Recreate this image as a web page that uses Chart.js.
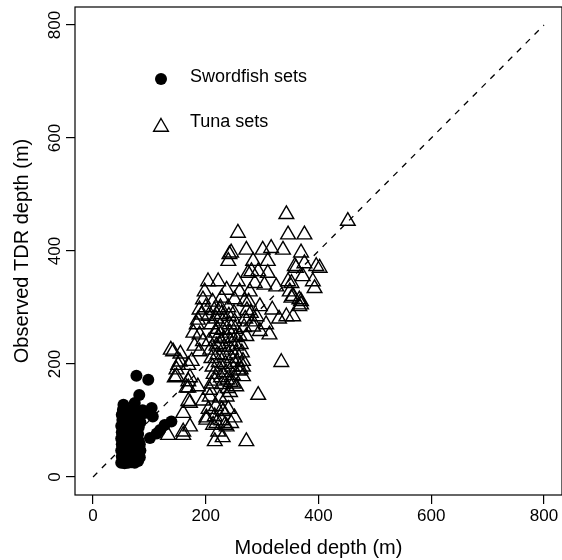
<!DOCTYPE html>
<html>
<head>
<meta charset="utf-8">
<script src="https://cdn.jsdelivr.net/npm/chart.js@4.4.1/dist/chart.umd.min.js"></script>
<style>
    body { margin: 0; background: #fff; }
    canvas { display: block; }
</style>
</head>
<body>
<canvas id="depthChart" width="562" height="560"></canvas>
<script>
// values: [modeled depth, observed TDR depth] in metres
const swordfishSets = [
    [77, 179], [98, 172], [82, 145], [54, 128], [74, 131], [104, 122], [106, 107], [139, 98],
    [127, 92], [119, 83], [113, 77], [101, 69], [92, 113], [88, 118],
    [50, 25], [51, 36], [50, 47], [51, 58], [50, 68], [51, 79], [50, 90], [52, 101], [51, 110],
    [53, 30], [54, 42], [53, 53], [54, 63], [53, 75], [54, 86], [53, 97], [54, 108], [53, 119],
    [56, 24], [57, 34], [56, 45], [57, 57], [56, 69], [57, 81], [56, 92], [57, 104], [56, 116],
    [59, 27], [60, 39], [59, 51], [60, 63], [59, 74], [60, 86], [59, 97],
    [62, 25], [63, 36], [62, 48], [63, 59], [62, 71], [63, 83], [62, 94],
    [65, 30], [66, 42], [65, 54], [66, 66], [65, 78], [66, 89], [65, 100],
    [68, 26], [69, 38], [68, 50], [69, 61], [68, 73], [69, 85], [68, 97], [69, 108],
    [71, 28], [72, 40], [71, 52], [72, 64], [71, 76], [72, 88], [71, 99], [72, 111], [71, 120],
    [74, 25], [75, 36], [74, 48], [75, 60], [74, 72], [75, 84], [74, 95], [75, 107], [74, 118],
    [77, 30], [78, 42], [77, 54], [78, 66], [77, 78], [78, 90], [77, 102], [78, 113],
    [80, 28], [81, 40], [80, 52], [81, 64], [80, 76], [81, 88], [80, 100],
    [83, 35], [84, 47], [83, 58], [84, 97], [83, 108]
];

const tunaSets = [
    // upper spread
    [343, 465], [452, 453], [257, 432], [346, 429], [375, 429],
    [272, 402], [301, 402], [316, 405], [337, 402], [369, 397], [242, 394], [245, 397],
    [240, 382], [284, 382], [310, 382], [375, 378], [360, 370], [396, 373], [402, 370], [358, 373],
    [281, 364], [293, 364], [310, 361], [275, 361], [372, 355],
    [390, 346], [204, 346], [222, 346], [257, 346], [287, 343], [304, 340], [325, 337], [346, 346],
    [352, 343], [393, 334], [198, 328], [237, 331], [260, 328], [278, 328], [349, 328],
    [195, 314], [228, 317], [251, 314], [269, 311], [352, 317], [369, 311], [366, 302], [296, 302],
    [355, 320], [366, 314], [369, 305], [189, 296], [225, 296], [343, 284], [355, 284], [290, 284],
    [307, 270], [284, 266], [186, 278], [296, 258], [272, 249], [313, 252], [318, 296], [330, 280],
    // left side
    [192, 287], [184, 270], [189, 252], [142, 222], [154, 204], [189, 222], [148, 190], [145, 176],
    [169, 169], [169, 158], [186, 160], [151, 198], [169, 198], [148, 178], [172, 176], [166, 158],
    [169, 134], [160, 113], [160, 80], [133, 74], [172, 131], [172, 89], [160, 74], [138, 225],
    [155, 218], [175, 205], [180, 232], [195, 240], [178, 255],
    // lower part
    [334, 203], [266, 178], [254, 160], [207, 154], [207, 142], [225, 140], [237, 142], [293, 145],
    [201, 105], [231, 116], [251, 105], [213, 92], [237, 89], [216, 63], [272, 63],
    [228, 119], [216, 107], [201, 101], [219, 95], [234, 92], [218, 125], [228, 100], [240, 120],
    [245, 95], [205, 120], [222, 80], [230, 70], [195, 135], [210, 165], [243, 150],
    // dense core
    [200, 300], [205, 285], [210, 270], [212, 310], [215, 295], [218, 280], [220, 262], [222, 248],
    [224, 235], [226, 300], [228, 288], [230, 275], [231, 260], [232, 245], [233, 230], [234, 215],
    [235, 200], [236, 185], [238, 172], [240, 300], [241, 285], [242, 270], [243, 255], [244, 240],
    [245, 225], [246, 210], [247, 195], [248, 180], [250, 290], [251, 275], [252, 262], [253, 247],
    [254, 232], [255, 218], [256, 203], [258, 188], [206, 240], [208, 225], [210, 210], [212, 195],
    [214, 182], [216, 170], [218, 255], [219, 232], [221, 217], [223, 203], [225, 190], [227, 176],
    [229, 164], [239, 157], [244, 168], [249, 165], [260, 250], [262, 235], [264, 220], [266, 205],
    [268, 265], [270, 280], [273, 295], [276, 310], [280, 290], [283, 275], [262, 190], [266, 195]
];

const oneToOne = [[0, 0], [800, 800]];
const xTicks = [0, 200, 400, 600, 800];
const yTicks = [0, 200, 400, 600, 800];
const legendLabels = ['Swordfish sets', 'Tuna sets'];

const FONT = "'Liberation Sans', Arial, Helvetica, sans-serif";

document.addEventListener('DOMContentLoaded', function () {
    const ctx = document.getElementById('depthChart').getContext('2d');
    const toPoints = arr => arr.map(p => ({ x: p[0], y: p[1] }));

    // keep the scales from asking for extra room for their end labels
    const noOverflow = s => {
        s.paddingLeft = 0;
        s.paddingRight = 0;
        s.paddingTop = 0;
        s.paddingBottom = 0;
    };

    // box around the plot region, rotated y tick labels and the legend, R style
    const framePlugin = {
        id: 'frame',
        afterDraw(chart) {
            const c = chart.ctx;
            const area = chart.chartArea;
            const yScale = chart.scales.y;
            c.save();
            c.strokeStyle = '#000';
            c.lineWidth = 1.2;
            c.strokeRect(area.left, area.top, area.right - area.left, area.bottom - area.top);

            c.fillStyle = '#000';
            c.font = '17px ' + FONT;
            c.textAlign = 'center';
            c.textBaseline = 'middle';
            yTicks.forEach(v => {
                c.save();
                c.translate(55, yScale.getPixelForValue(v));
                c.rotate(-Math.PI / 2);
                c.fillText(String(v), 0, 0);
                c.restore();
            });

            // legend
            c.beginPath();
            c.arc(161, 79, 6, 0, Math.PI * 2);
            c.fill();
            const r = 8.5;
            c.beginPath();
            c.moveTo(161, 127 - r);
            c.lineTo(161 + r * Math.sin(2 * Math.PI / 3), 127 + r / 2);
            c.lineTo(161 - r * Math.sin(2 * Math.PI / 3), 127 + r / 2);
            c.closePath();
            c.lineWidth = 1.4;
            c.stroke();
            c.font = '18px ' + FONT;
            c.textAlign = 'left';
            c.fillText(legendLabels[0], 190, 77);
            c.fillText(legendLabels[1], 190, 122);
            c.restore();
        }
    };

    new Chart(ctx, {
        type: 'scatter',
        data: {
            datasets: [
                {
                    label: 'Observed = modeled',
                    data: toPoints(oneToOne),
                    showLine: true,
                    borderColor: '#000',
                    borderWidth: 1.3,
                    borderDash: [6, 6.5],
                    pointRadius: 0
                },
                {
                    label: legendLabels[0],
                    data: toPoints(swordfishSets),
                    pointStyle: 'circle',
                    pointRadius: 6,
                    backgroundColor: '#000',
                    borderWidth: 0
                },
                {
                    label: legendLabels[1],
                    data: toPoints(tunaSets),
                    pointStyle: 'triangle',
                    pointRadius: 8.5,
                    backgroundColor: 'rgba(0,0,0,0)',
                    borderColor: '#000',
                    borderWidth: 1.4
                }
            ]
        },
        options: {
            responsive: false,
            animation: false,
            events: [],
            // right edge of the box falls just outside the picture, as in the original
            layout: { autoPadding: false, padding: { top: 7, right: -1, bottom: 0, left: 0 } },
            plugins: {
                legend: { display: false },
                tooltip: { enabled: false }
            },
            scales: {
                x: {
                    type: 'linear',
                    min: -32,
                    max: 832,
                    afterBuildTicks: s => { s.ticks = xTicks.map(v => ({ value: v })); },
                    afterFit: s => { s.height = 65; noOverflow(s); },
                    border: { display: false },
                    grid: { drawOnChartArea: false, color: '#000', tickLength: 9, lineWidth: 1.2 },
                    ticks: { color: '#000', font: { family: FONT, size: 17 }, padding: 2, maxRotation: 0 },
                    title: {
                        display: true,
                        text: 'Modeled depth (m)',
                        color: '#000',
                        font: { family: FONT, size: 20 },
                        padding: 0
                    }
                },
                y: {
                    type: 'linear',
                    min: -32,
                    max: 832,
                    afterBuildTicks: s => { s.ticks = yTicks.map(v => ({ value: v })); },
                    afterFit: s => { s.width = 75; noOverflow(s); },
                    border: { display: false },
                    grid: { drawOnChartArea: false, color: '#000', tickLength: 9, lineWidth: 1.2 },
                    ticks: { color: 'rgba(0,0,0,0)', font: { family: FONT, size: 17 } },
                    title: {
                        display: true,
                        text: 'Observed TDR depth (m)',
                        color: '#000',
                        font: { family: FONT, size: 20 },
                        padding: { top: 10, bottom: 0 }
                    }
                }
            }
        },
        plugins: [framePlugin]
    });
});
</script>
</body>
</html>
